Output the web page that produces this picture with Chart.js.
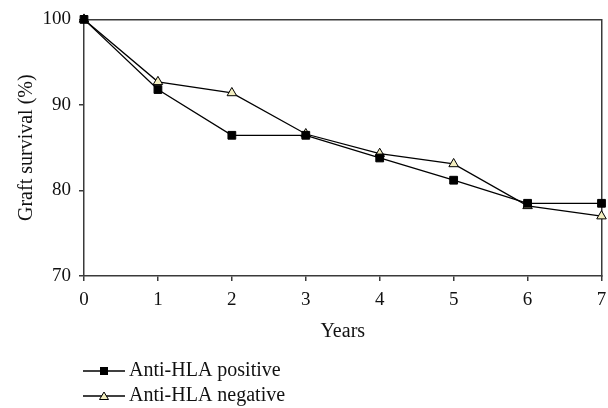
<!DOCTYPE html>
<html>
<head>
<meta charset="utf-8">
<script src="https://cdn.jsdelivr.net/npm/chart.js@4.4.0/dist/chart.umd.min.js"></script>
<style>
html,body{margin:0;padding:0;background:#fff;}
#wrap{width:608px;height:408px;}
</style>
</head>
<body>
<div id="wrap"><canvas id="c" width="608" height="408"></canvas></div>
<script>
const years = [0, 1, 2, 3, 4, 5, 6, 7];
const positive = [100, 91.8, 86.45, 86.45, 83.8, 81.2, 78.5, 78.5];
const negative = [100, 92.7, 91.4, 86.6, 84.3, 83.1, 78.2, 77.0];
const seriesLabels = ['Anti-HLA positive', 'Anti-HLA negative'];
const yTicks = [70, 80, 90, 100];
const xTicks = [0, 1, 2, 3, 4, 5, 6, 7];

const FONT = "'Liberation Serif', 'DejaVu Serif', serif";
const AXIS = '#3a3a3a';

const legendPlugin = {
  id: 'customLegend',
  afterDraw(chart) {
    const ctx = chart.ctx;
    const rows = [371, 396];
    chart.data.datasets.forEach((ds, i) => {
      const y = rows[i];
      ctx.save();
      ctx.strokeStyle = ds.borderColor;
      ctx.lineWidth = 1.5;
      ctx.beginPath();
      ctx.moveTo(83, y);
      ctx.lineTo(125, y);
      ctx.stroke();
      ctx.fillStyle = ds.pointBackgroundColor;
      ctx.strokeStyle = ds.pointBorderColor;
      ctx.lineWidth = 1;
      const cx = 104;
      if (ds.pointStyle === 'rect') {
        ctx.fillRect(cx - 4, y - 4, 8, 8);
      } else {
        ctx.beginPath();
        ctx.moveTo(cx, y - 4);
        ctx.lineTo(cx + 4.5, y + 3.5);
        ctx.lineTo(cx - 4.5, y + 3.5);
        ctx.closePath();
        ctx.fill();
        ctx.stroke();
      }
      ctx.fillStyle = '#111';
      ctx.font = "20px " + FONT;
      ctx.textBaseline = 'middle';
      ctx.textAlign = 'left';
      ctx.fillText(ds.label, 129, y);
      ctx.restore();
    });
  }
};

new Chart(document.getElementById('c'), {
  type: 'line',
  data: {
    datasets: [
      {
        label: seriesLabels[0],
        data: years.map((x, i) => ({ x: x, y: positive[i] })),
        borderColor: '#000',
        borderWidth: 1.3,
        pointStyle: 'rect',
        pointRadius: 5.5,
        pointBackgroundColor: '#000',
        pointBorderColor: '#000',
        pointBorderWidth: 1,
        tension: 0,
        clip: false
      },
      {
        label: seriesLabels[1],
        data: years.map((x, i) => ({ x: x, y: negative[i] })),
        borderColor: '#000',
        borderWidth: 1.3,
        pointStyle: 'triangle',
        pointRadius: 5.5,
        pointBackgroundColor: '#f3eec0',
        pointBorderColor: '#000',
        pointBorderWidth: 1,
        tension: 0,
        clip: false
      }
    ]
  },
  options: {
    responsive: false,
    animation: false,
    devicePixelRatio: 1,
    layout: { padding: { left: 0, right: 6, top: 17, bottom: 62 } },
    plugins: { legend: { display: false }, tooltip: { enabled: false } },
    scales: {
      x: {
        type: 'linear',
        position: 'bottom',
        min: 0, max: 7,
        afterBuildTicks: s => { s.ticks = xTicks.map(v => ({ value: v })); },
        afterFit: s => { s.height = 70; s.paddingRight = 0; s.paddingLeft = 0; },
        grid: { display: true, drawOnChartArea: false, drawTicks: true, tickLength: 5, color: AXIS, lineWidth: 1.5 },
        border: { display: true, color: AXIS, width: 1.5 },
        ticks: { color: '#111', font: { family: FONT, size: 19 }, padding: 8, maxRotation: 0 },
        title: { display: true, text: 'Years', color: '#111', font: { family: FONT, size: 20 }, padding: { top: 0, bottom: 2 } }
      },
      y: {
        type: 'linear',
        position: 'left',
        min: 70, max: 100,
        afterBuildTicks: s => { s.ticks = yTicks.map(v => ({ value: v })); },
        afterFit: s => { s.width = 84; },
        grid: { display: true, drawOnChartArea: false, drawTicks: true, tickLength: 5, color: AXIS, lineWidth: 1.5 },
        border: { display: true, color: AXIS, width: 1.5 },
        ticks: { color: '#111', font: { family: FONT, size: 19 }, padding: 8 },
        title: { display: true, text: 'Graft survival (%)', color: '#111', font: { family: FONT, size: 20 }, padding: { top: 15, bottom: 0 } }
      },
      xTop: {
        type: 'linear',
        position: 'top',
        min: 0, max: 7,
        afterFit: s => { s.height = 0; s.paddingRight = 0; s.paddingLeft = 0; },
        grid: { display: false, drawTicks: false },
        border: { display: true, color: AXIS, width: 1.5 },
        ticks: { display: false }
      },
      yRight: {
        type: 'linear',
        position: 'right',
        min: 70, max: 100,
        afterFit: s => { s.width = 0; },
        grid: { display: false, drawTicks: false },
        border: { display: true, color: AXIS, width: 1.5 },
        ticks: { display: false }
      }
    }
  },
  plugins: [legendPlugin]
});
</script>
</body>
</html>
